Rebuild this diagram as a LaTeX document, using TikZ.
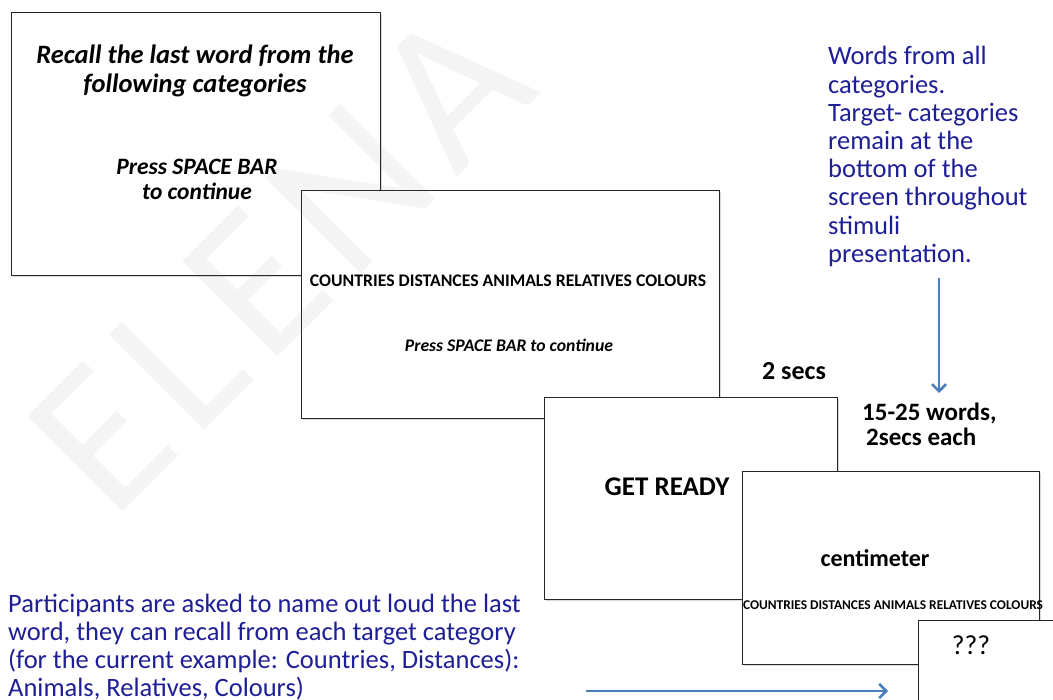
\documentclass[tikz,border=0pt]{standalone}
\usepackage{fontspec}
\setmainfont{Carlito}
\newfontfamily\markfont[LetterSpace=7]{Carlito}
\usetikzlibrary{arrows.meta,shadows}
\definecolor{notecol}{RGB}{30,30,150}
\definecolor{arrowcol}{RGB}{74,126,187}
\definecolor{markcol}{RGB}{120,120,120}
\begin{document}
\begin{tikzpicture}[x=1pt,y=-1pt,
  screen/.style={draw=black!85,line width=1.1pt,fill=white,anchor=north west,inner sep=0pt,
    drop shadow={shadow xshift=1.5pt,shadow yshift=-1.5pt,opacity=0.3}},
  label/.style={inner sep=0pt,align=center,text=black},
  note/.style={inner sep=0pt,align=left,text=notecol,font=\fontsize{26.5}{28.2}\selectfont},
  flow/.style={draw=arrowcol,line width=2.8pt,-{Straight Barb[length=7pt,width=14pt,line width=2.6pt]}}
]
\useasboundingbox (0,0) rectangle (1053,700);

% screens of the task, back to front
\node[screen,minimum width=369pt,minimum height=263pt] (s1) at (11,12) {};
\node[label,font=\bfseries\itshape\fontsize{26.5}{29}\selectfont] (t1) at (195,71)
  {Recall the last word from the\\following categories};
\node[label,font=\bfseries\itshape\fontsize{23.5}{25}\selectfont] (p1) at (197,179)
  {Press SPACE BAR\\to continue};

\node[screen,minimum width=418pt,minimum height=228pt] (s2) at (301,190) {};
\node[label,font=\bfseries\fontsize{17.7}{20}\selectfont] (c2) at (508,281)
  {COUNTRIES DISTANCES ANIMALS RELATIVES COLOURS};
\node[label,font=\bfseries\itshape\fontsize{17.7}{20}\selectfont] (p2) at (509,345)
  {Press SPACE BAR to continue};

\node[label,font=\bfseries\fontsize{26}{28}\selectfont] (d1) at (794,371) {2 secs};

\node[screen,minimum width=293pt,minimum height=202pt] (s3) at (544,397) {};
\node[label,font=\bfseries\fontsize{27}{30}\selectfont] (g3) at (667,487) {GET READY};

\node[label,align=left,font=\bfseries\fontsize{25}{25}\selectfont,anchor=west] (d2) at (862,424)
  {15-25 words,\\\hspace{4pt}2secs each};

\node[screen,minimum width=297pt,minimum height=193pt] (s4) at (742,471) {};
\node[label,font=\bfseries\fontsize{24}{27}\selectfont] (w4) at (875,558) {centimeter};
\node[label,font=\bfseries\fontsize{13.4}{15}\selectfont] (c4) at (893,605)
  {COUNTRIES DISTANCES ANIMALS RELATIVES COLOURS};

\node[screen,minimum width=160pt,minimum height=110pt] (s5) at (918,620) {};
\node[label,font=\fontsize{27.5}{30}\selectfont] (q5) at (971,645) {???};

% explanatory notes
\node[note,anchor=west] (n1) at (828,156.5)
  {Words from all\\categories.\\Target- categories\\remain at the\\bottom of the\\screen throughout\\stimuli\\presentation.};
\node[note,anchor=west] (n2) at (8,647)
  {Participants are asked to name out loud the last\\word, they can recall from each target category\\(for the current example: Countries, Distances):\\Animals, Relatives, Colours)};

% arrows
\coordinate (a1) at (939,278);
\coordinate (a2) at (939,393);
\coordinate (b1) at (586,691);
\coordinate (b2) at (888,691);
\draw[flow] (a1) -- (a2);
\draw[flow] (b1) -- (b2);

% watermark
\node[text=markcol,opacity=0.08,rotate=45,anchor=base west,inner sep=0pt,
  font=\markfont\fontsize{210}{210}\selectfont] (wm) at (112,523) {ELENA};
\end{tikzpicture}
\end{document}
